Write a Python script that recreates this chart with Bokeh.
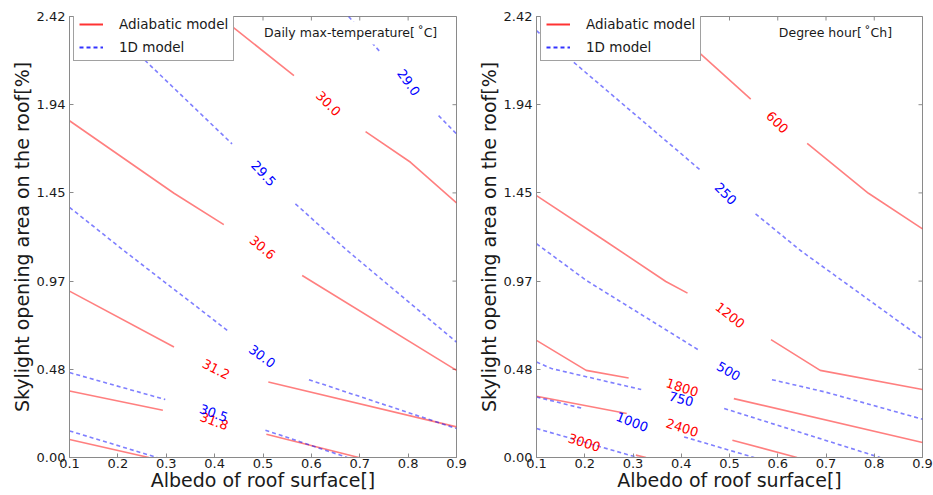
import math
from bokeh.plotting import figure
from bokeh.models import (Range1d, FixedTicker, Label, ColumnDataSource, Legend, LegendItem)
from bokeh.layouts import row
from bokeh.embed import file_html
from bokeh.resources import INLINE
from bokeh.core.properties import value

# ---------------- axes -----------------
albedo_ticks = [0.1, 0.2, 0.3, 0.4, 0.5, 0.6, 0.7, 0.8, 0.9]
albedo_tick_labels = ["0.1", "0.2", "0.3", "0.4", "0.5", "0.6", "0.7", "0.8", "0.9"]
skylight_ticks = [0.0, 0.484, 0.968, 1.452, 1.936, 2.42]
skylight_tick_labels = ["0.00", "0.48", "0.97", "1.45", "1.94", "2.42"]

# ---------------- left panel: daily max temperature -----------------
tmax_adiabatic_xs = [
    [0.410, 0.443, 0.564], [0.712, 0.805, 0.9],      # 30.0
    [0.1, 0.316, 0.419], [0.581, 0.9],               # 30.6
    [0.1, 0.316], [0.511, 0.9],                      # 31.2
    [0.1, 0.293], [0.507, 0.698],                    # 31.8
    [0.1, 0.264],                                    # 32.4
]
tmax_adiabatic_ys = [
    [2.42, 2.351, 2.095], [1.788, 1.62, 1.397],
    [1.848, 1.450, 1.278], [0.999, 0.478],
    [0.913, 0.606], [0.414, 0.168],
    [0.365, 0.259], [0.128, 0.0],
    [0.099, 0.0],
]
tmax_1d_xs = [
    [0.677, 0.743], [0.863, 0.9],                    # 29.0
    [0.162, 0.257, 0.436], [0.567, 0.674, 0.9],      # 29.5
    [0.1, 0.212, 0.426], [0.595, 0.9],               # 30.0
    [0.1, 0.298], [0.505, 0.674],                    # 30.5
    [0.1, 0.281],                                    # 31.0
]
tmax_1d_ys = [
    [2.42, 2.223], [1.876, 1.776],
    [2.42, 2.177, 1.721], [1.392, 1.136, 0.633],
    [1.373, 1.136, 0.698], [0.427, 0.159],
    [0.466, 0.318], [0.150, 0.0],
    [0.146, 0.0],
]
tmax_label_text = ["30.0", "30.6", "31.2", "31.8", "29.0", "29.5", "30.0", "30.5"]
tmax_label_model = ["adiabatic"] * 4 + ["1d"] * 4
tmax_label_x = [0.635, 0.499, 0.403, 0.399, 0.801, 0.501, 0.498, 0.398]
tmax_label_y = [1.942, 1.152, 0.484, 0.199, 2.058, 1.558, 0.555, 0.243]
tmax_label_rotation = [-45, -40, -27, -20, -55, -47, -36, -20]

# ---------------- right panel: degree hour -----------------
dh_adiabatic_xs = [
    [0.354, 0.444, 0.544], [0.661, 0.788, 0.9],      # 600
    [0.1, 0.241, 0.368, 0.413], [0.586, 0.688, 0.9], # 1200
    [0.1, 0.203, 0.291], [0.509, 0.9],               # 1800
    [0.1, 0.287], [0.506, 0.640],                    # 2400
    [0.306, 0.327],                                  # 3000
]
dh_adiabatic_ys = [
    [2.42, 2.205, 1.967], [1.724, 1.450, 1.255],
    [1.437, 1.191, 0.966, 0.902], [0.647, 0.478, 0.373],
    [0.643, 0.478, 0.436], [0.323, 0.082],
    [0.336, 0.241], [0.095, 0.0],
    [0.013, 0.0],
]
dh_1d_xs = [
    [0.1, 0.169, 0.441], [0.554, 0.647, 0.9],        # 250
    [0.1, 0.203, 0.437], [0.588, 0.699, 0.9],        # 500
    [0.1, 0.131, 0.317], [0.489, 0.812],             # 750
    [0.1, 0.196], [0.406, 0.551],                    # 1000
    [0.1, 0.310],                                    # 1250
]
dh_1d_ys = [
    [2.342, 2.187, 1.574], [1.337, 1.136, 0.652],
    [1.173, 0.972, 0.588], [0.427, 0.359, 0.210],
    [0.524, 0.488, 0.373], [0.269, 0.0],
    [0.332, 0.269], [0.113, 0.0],
    [0.159, 0.0],
]
dh_label_text = ["600", "1200", "1800", "2400", "3000", "250", "500", "750", "1000"]
dh_label_model = ["adiabatic"] * 5 + ["1d"] * 4
dh_label_x = [0.599, 0.501, 0.402, 0.402, 0.199, 0.492, 0.498, 0.400, 0.298]
dh_label_y = [1.839, 0.780, 0.383, 0.163, 0.081, 1.447, 0.473, 0.320, 0.195]
dh_label_rotation = [-45, -38, -18, -18, -18, -45, -30, -15, -21]

FONT = "DejaVu Sans"
GRAY = "#8a8a8a"
TXT = "#1a1a1a"
MODEL_COLOR = {"adiabatic": "red", "1d": "blue"}
H = 493
BORDER_TOP = 16
BORDER_BOTTOM = 36
FRAME_H = H - BORDER_TOP - BORDER_BOTTOM
LEGEND_H = 45


def make_panel(width, border_left, border_right, a_xs, a_ys, d_xs, d_ys,
               lab_text, lab_model, lab_x, lab_y, lab_rot, title_text, title_x):
    p = figure(width=width, height=H, x_range=Range1d(0.1, 0.9), y_range=Range1d(0, 2.42),
               output_backend="svg", toolbar_location=None,
               min_border_left=border_left, min_border_right=border_right,
               min_border_top=BORDER_TOP, min_border_bottom=BORDER_BOTTOM,
               x_axis_label="Albedo of roof surface[]",
               y_axis_label="Skylight opening area on the roof[%]")
    p.xgrid.visible = False
    p.ygrid.visible = False
    p.outline_line_color = GRAY
    p.outline_line_width = 1
    p.background_fill_color = "white"
    p.border_fill_color = "white"

    p.xaxis.ticker = FixedTicker(ticks=albedo_ticks)
    p.xaxis.major_label_overrides = dict(zip(albedo_ticks, albedo_tick_labels))
    p.yaxis.ticker = FixedTicker(ticks=skylight_ticks)
    p.yaxis.major_label_overrides = dict(zip(skylight_ticks, skylight_tick_labels))
    for ax in (p.xaxis[0], p.yaxis[0]):
        ax.axis_line_color = GRAY
        ax.major_tick_line_color = GRAY
        ax.major_tick_in = 4
        ax.major_tick_out = 0
        ax.minor_tick_line_color = None
        ax.major_label_text_font = FONT
        ax.major_label_text_font_size = "13px"
        ax.major_label_text_color = TXT
        ax.axis_label_text_font = FONT
        ax.axis_label_text_font_size = "19px"
        ax.axis_label_text_font_style = "normal"
        ax.axis_label_text_color = TXT
    p.xaxis.major_label_standoff = 1
    p.xaxis.axis_label_standoff = -2
    p.yaxis.major_label_standoff = 4
    p.yaxis.axis_label_standoff = 1

    # inward tick marks on the top and right edges (half of each dash is clipped by the frame)
    p.scatter(x=albedo_ticks, y=[skylight_ticks[-1]] * len(albedo_ticks), marker="dash",
              angle=90, angle_units="deg", size=8, line_color=GRAY, line_width=1)
    p.scatter(x=[albedo_ticks[-1]] * len(skylight_ticks), y=skylight_ticks, marker="dash",
              size=8, line_color=GRAY, line_width=1)

    p.multi_line(xs=a_xs, ys=a_ys, line_color="red", line_alpha=0.5, line_width=1.6)
    p.multi_line(xs=d_xs, ys=d_ys, line_color="blue", line_alpha=0.5, line_width=1.6,
                 line_dash="4 3")

    src = ColumnDataSource(data=dict(
        x=lab_x, y=lab_y, text=lab_text, angle=lab_rot,
        color=[MODEL_COLOR[m] for m in lab_model]))
    p.text(x="x", y="y", text="text", angle="angle", angle_units="deg", source=src,
           text_color="color", text_font_size=value("13px"), text_font=value(FONT),
           text_align="center", text_baseline="middle")

    p.add_layout(Label(x=title_x, y=2.33, text=title_text, text_font=FONT,
                       text_font_size="12.5px", text_color=TXT, text_baseline="middle",
                       text_align="left", background_fill_color="white",
                       background_fill_alpha=1.0, padding=4))

    nan = [math.nan]
    leg_r = p.line(x=nan, y=nan, line_color="red", line_alpha=0.8, line_width=2)
    leg_b = p.line(x=nan, y=nan, line_color="blue", line_alpha=0.8, line_width=2,
                   line_dash="4 3")
    legend = Legend(items=[LegendItem(label="Adiabatic model", renderers=[leg_r]),
                           LegendItem(label="1D model", renderers=[leg_b])],
                    location=(4, FRAME_H - LEGEND_H))
    legend.label_text_font = FONT
    legend.label_text_font_size = "13.5px"
    legend.label_text_color = TXT
    legend.border_line_color = "#444444"
    legend.border_line_width = 1
    legend.background_fill_alpha = 1.0
    legend.padding = 5
    legend.spacing = 7
    legend.glyph_width = 24
    legend.glyph_height = 14
    legend.label_height = 14
    legend.label_standoff = 16
    legend.margin = 0
    p.add_layout(legend)
    return p


p1 = make_panel(474, 69, 18, tmax_adiabatic_xs, tmax_adiabatic_ys, tmax_1d_xs, tmax_1d_ys,
                tmax_label_text, tmax_label_model, tmax_label_x, tmax_label_y,
                tmax_label_rotation, "Daily max-temperature[\u2009\u02daC]", 0.494)
p2 = make_panel(459, 61, 11, dh_adiabatic_xs, dh_adiabatic_ys, dh_1d_xs, dh_1d_ys,
                dh_label_text, dh_label_model, dh_label_x, dh_label_y,
                dh_label_rotation, "Degree hour[\u2009\u02daCh]", 0.594)

layout = row(p1, p2, spacing=0)
open("out.html", "w").write(file_html(layout, INLINE))
